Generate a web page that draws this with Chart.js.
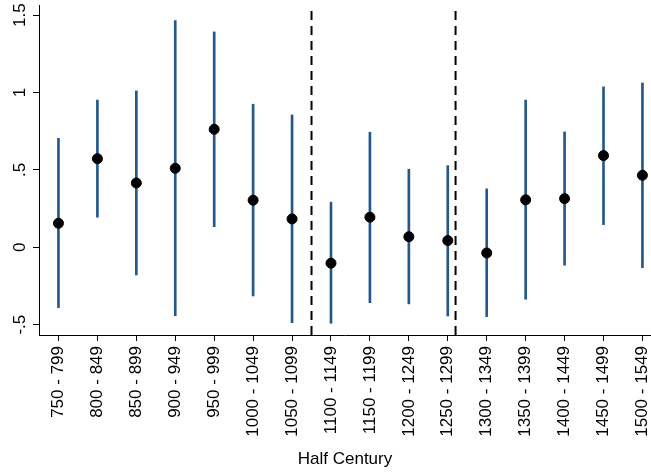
<!DOCTYPE html>
<html>
<head>
<meta charset="utf-8">
<script src="https://cdn.jsdelivr.net/npm/chart.js@4"></script>
<style>
  body { margin: 0; background: #fff; }
  #wrap { width: 651px; height: 472px; }
</style>
</head>
<body>
<div id="wrap"><canvas id="chart" width="651" height="472"></canvas></div>
<script>
const categories = ["750 - 799", "800 - 849", "850 - 899", "900 - 949", "950 - 999", "1000 - 1049", "1050 - 1099",
  "1100 - 1149", "1150 - 1199", "1200 - 1249", "1250 - 1299", "1300 - 1349", "1350 - 1399", "1400 - 1449",
  "1450 - 1499", "1500 - 1549"];
const estimates = [0.155, 0.572, 0.415, 0.510, 0.762, 0.304, 0.183, -0.103, 0.194, 0.068, 0.043, -0.037, 0.306, 0.314, 0.592, 0.465];
const upper = [0.704, 0.951, 1.010, 1.464, 1.391, 0.924, 0.855, 0.291, 0.743, 0.504, 0.527, 0.377, 0.951, 0.745, 1.036, 1.061];
const lower = [-0.390, 0.194, -0.179, -0.442, 0.133, -0.315, -0.487, -0.491, -0.358, -0.366, -0.444, -0.448, -0.336, -0.116, 0.146, -0.132];
const dividers = [6.5, 10.2];
const yTicks = [-0.5, 0, 0.5, 1, 1.5];

const yMin = -0.567, yMax = 1.565;

function fmtY(v) {
  if (v === 0) return "0";
  return String(v).replace(/^(-?)0\./, "$1.");
}

const datasets = [
  {
    type: "bar",
    data: categories.map((c, i) => ({ x: i, y: [lower[i], upper[i]] })),
    backgroundColor: "#23588a",
    barThickness: 2,
    order: 2
  },
  {
    type: "scatter",
    data: estimates.map((v, i) => ({ x: i, y: v })),
    backgroundColor: "#000",
    borderColor: "#000",
    pointRadius: 5,
    order: 1
  }
];
dividers.forEach(d => datasets.push({
  type: "line",
  data: [{ x: d, y: yMin }, { x: d, y: yMax - 0.03 }],
  borderColor: "#000",
  borderWidth: 2,
  borderDash: [9, 6],
  pointRadius: 0,
  order: 3
}));

const font = { family: "'Liberation Sans', Arial, sans-serif", size: 17 };

new Chart(document.getElementById("chart"), {
  data: { datasets },
  options: {
    responsive: false,
    animation: false,
    layout: { autoPadding: false, padding: { top: 5, right: 0, left: 0, bottom: 0 } },
    plugins: { legend: { display: false }, tooltip: { enabled: false } },
    scales: {
      x: {
        type: "linear",
        offset: false,
        min: -0.5,
        max: 15.22,
        afterBuildTicks: s => { s.ticks = categories.map((c, i) => ({ value: i })); },
        afterFit: s => { s.height = 137; s.paddingLeft = 0; s.paddingRight = 0; },
        ticks: {
          callback: v => categories[v],
          minRotation: 90,
          maxRotation: 90,
          autoSkip: false,
          padding: 5,
          color: "#000",
          font
        },
        grid: { offset: false, drawOnChartArea: false, drawTicks: true, tickLength: 6, color: "#000" },
        border: { display: true, color: "#000", width: 1 },
        title: { display: true, text: "Half Century", color: "#000", font, padding: { top: 0, bottom: 2 } }
      },
      y: {
        type: "linear",
        min: yMin,
        max: yMax,
        afterBuildTicks: s => { s.ticks = yTicks.map(v => ({ value: v })); },
        afterFit: s => { s.width = 39; s.paddingTop = 0; s.paddingBottom = 0; },
        ticks: {
          callback: v => fmtY(v),
          minRotation: 90,
          maxRotation: 90,
          crossAlign: "center",
          padding: 1,
          color: "#000",
          font
        },
        grid: { drawOnChartArea: false, drawTicks: true, tickLength: 6, color: "#000" },
        border: { display: true, color: "#000", width: 1 }
      }
    }
  }
});
</script>
</body>
</html>
